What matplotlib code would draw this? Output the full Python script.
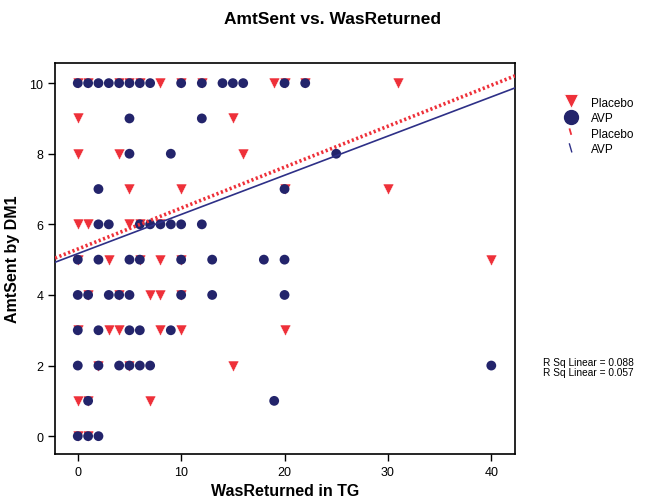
import matplotlib
matplotlib.use("Agg")
import matplotlib.pyplot as plt
from matplotlib.lines import Line2D
from matplotlib.legend_handler import HandlerBase
import numpy as np

plt.rcParams["font.family"] = ["Liberation Sans", "DejaVu Sans"]

# Placebo group (AmtSent by DM1 vs WasReturned in TG)
placebo_x = [0, 1, 4, 5, 6, 8, 10, 12, 19, 20, 22, 31,
             0, 15,
             0, 4, 16,
             5, 10, 20, 30,
             0, 1, 5, 6, 8,
             0, 3, 6, 8, 10, 40,
             1, 4, 7, 8, 10,
             0, 3, 4, 8, 10, 20,
             2, 5, 15,
             0, 1, 7,
             0, 1]
placebo_y = [10] * 12 + [9] * 2 + [8] * 3 + [7] * 4 + [6] * 5 + [5] * 6 + \
            [4] * 5 + [3] * 6 + [2] * 3 + [1] * 3 + [0] * 2

# AVP group
avp_x = [0, 1, 2, 3, 4, 5, 6, 7, 10, 12, 14, 15, 16, 20, 22,
         5, 12,
         5, 9, 25,
         2, 20,
         2, 3, 6, 7, 8, 9, 10, 12,
         0, 2, 5, 6, 10, 13, 18, 20,
         0, 1, 3, 4, 5, 10, 13, 20,
         0, 2, 5, 6, 9,
         0, 2, 4, 5, 6, 7, 40,
         1, 19,
         0, 1, 2]
avp_y = [10] * 15 + [9] * 2 + [8] * 3 + [7] * 2 + [6] * 8 + [5] * 8 + \
        [4] * 8 + [3] * 5 + [2] * 7 + [1] * 2 + [0] * 3

# linear fits: intercept, slope
placebo_fit = (5.30, 0.116)
avp_fit = (5.17, 0.111)
r_sq = [0.088, 0.057]

red = "#ee3039"
navy = "#23246b"
blue_line = "#2e3087"


class SlantHandler(HandlerBase):
    # short slanted stroke for the fit-line legend keys
    def create_artists(self, legend, orig, xdescent, ydescent, width, height,
                       fontsize, trans):
        ln = Line2D([width * 0.42, width * 0.58], [height * 1.0, height * 0.05],
                    color=orig.get_color(), lw=orig.get_linewidth(),
                    linestyle=orig.get_linestyle(), transform=trans)
        return [ln]


fig = plt.figure(figsize=(6.52, 5.02), dpi=100)
ax = fig.add_axes([0.0844, 0.094, 0.7056, 0.7785])

ax.scatter(placebo_x, placebo_y, marker="v", s=62, color=red,
           edgecolors="white", linewidths=0.3, zorder=3)
ax.scatter(avp_x, avp_y, marker="o", s=50, color=navy, edgecolors="none", zorder=4)

ax.set_xlim(-2.2, 42.3)
ax.set_ylim(-0.5, 10.57)
xs = np.array(ax.get_xlim())
ax.plot(xs, placebo_fit[0] + placebo_fit[1] * xs, color=red, lw=2.6,
        linestyle=(0, (0.6, 0.7)), zorder=5)
ax.plot(xs, avp_fit[0] + avp_fit[1] * xs, color=blue_line, lw=1.2, zorder=5)

ax.set_xticks([0, 10, 20, 30, 40])
ax.set_yticks([0, 2, 4, 6, 8, 10])
ax.tick_params(direction="out", length=5, width=1, labelsize=9, top=False, right=False)
for s in ax.spines.values():
    s.set_linewidth(1.2)

ax.set_xlabel("WasReturned in TG", fontsize=11.5, fontweight="bold", labelpad=4)
ax.set_ylabel("AmtSent by DM1", fontsize=11.5, fontweight="bold", labelpad=7)
fig.text(0.51, 0.962, "AmtSent vs. WasReturned", ha="center", va="center",
         fontsize=12.5, fontweight="bold")

handles = [
    Line2D([], [], marker="v", color=red, linestyle="none", markersize=10,
           markeredgecolor="white", markeredgewidth=0.6, markerfacecolor=red),
    Line2D([], [], marker="o", color=navy, linestyle="none", markersize=10),
    Line2D([], [], color=red, lw=1.3, linestyle=(0, (1.5, 1.2))),
    Line2D([], [], color=blue_line, lw=1),
]
handler_map = {handles[2]: SlantHandler(), handles[3]: SlantHandler()}
fig.legend(handles, ["Placebo", "AVP", "Placebo", "AVP"], loc="upper left",
           bbox_to_anchor=(0.857, 0.815), frameon=False, fontsize=8.5,
           handlelength=1.2, handletextpad=1.1, labelspacing=0.3,
           borderaxespad=0, handler_map=handler_map)

fig.text(0.833, 0.267, "R Sq Linear = %.3f\nR Sq Linear = %.3f" % tuple(r_sq),
         ha="left", va="center", fontsize=7.3, linespacing=0.95)

fig.savefig("out.png", dpi=100)
